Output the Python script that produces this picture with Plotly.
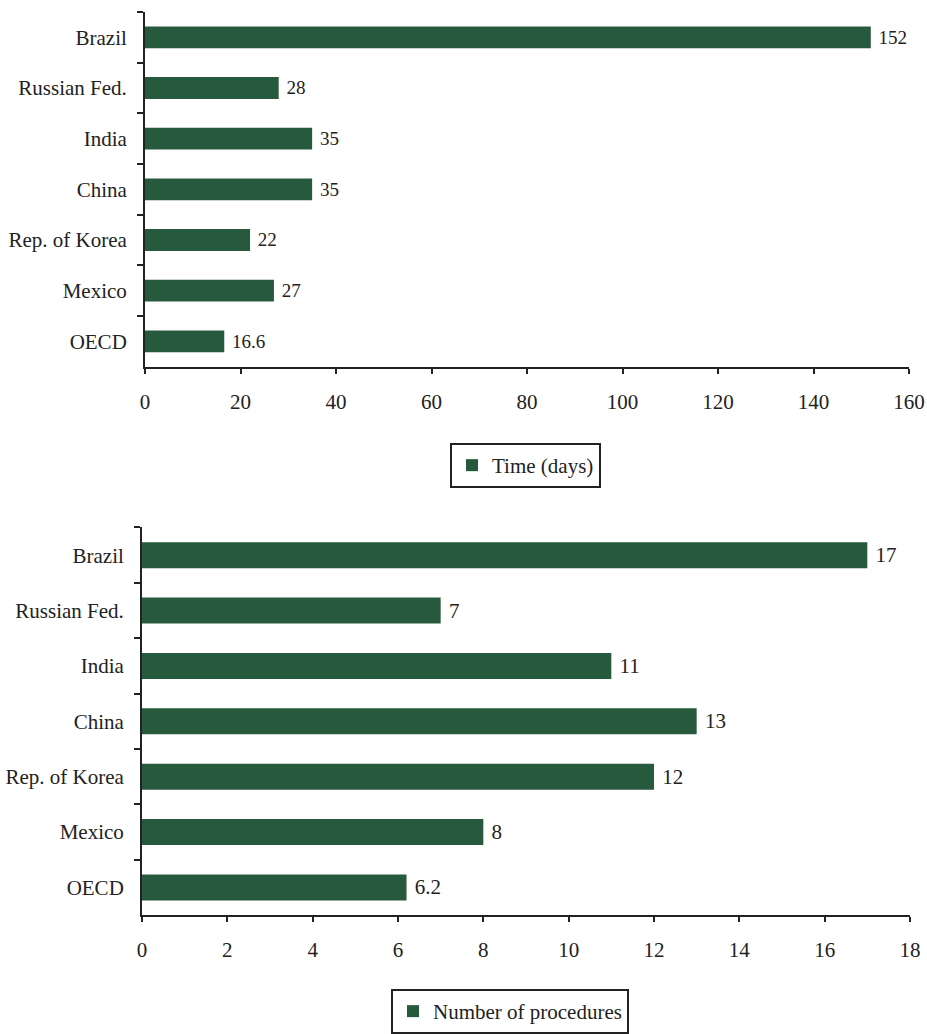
import plotly.graph_objects as go

categories = ["Brazil", "Russian Fed.", "India", "China", "Rep. of Korea", "Mexico", "OECD"]
time_days = [152, 28, 35, 35, 22, 27, 16.6]
time_labels = ["152", "28", "35", "35", "22", "27", "16.6"]
procedures = [17, 7, 11, 13, 12, 8, 6.2]
proc_labels = ["17", "7", "11", "13", "12", "8", "6.2"]
x1_ticks = [0, 20, 40, 60, 80, 100, 120, 140, 160]
x2_ticks = [0, 2, 4, 6, 8, 10, 12, 14, 16, 18]

BAR = "#275a3c"
FONT = "Liberation Serif"
FS = 21

W, H = 927, 1034

fig = go.Figure()
fig.add_trace(go.Bar(
    y=categories, x=time_days, orientation="h", name="Time (days)",
    marker=dict(color=BAR, line=dict(width=0)),
    text=time_labels, texttemplate=" %{text}", textposition="outside", cliponaxis=False,
    textfont=dict(family=FONT, size=FS, color="#222"),
    xaxis="x", yaxis="y", legend="legend", width=0.43,
))
fig.add_trace(go.Bar(
    y=categories, x=procedures, orientation="h", name="Number of procedures",
    marker=dict(color=BAR, line=dict(width=0)),
    text=proc_labels, texttemplate=" %{text}", textposition="outside", cliponaxis=False,
    textfont=dict(family=FONT, size=FS, color="#222"),
    xaxis="x2", yaxis="y2", legend="legend2", width=0.47,
))

axis_common = dict(
    showgrid=False, zeroline=False, showline=True, linecolor="#222", linewidth=2,
    ticks="outside", tickcolor="#222", tickwidth=2, automargin=False,
    tickfont=dict(family=FONT, size=FS, color="#222"),
)

fig.update_layout(
    width=W, height=H,
    margin=dict(l=0, r=0, t=0, b=0),
    paper_bgcolor="white", plot_bgcolor="white",
    font=dict(family=FONT, size=FS, color="#222"),
    xaxis=dict(domain=[145 / W, 909 / W], range=[0, 160], tickvals=x1_ticks,
               anchor="y", ticklen=5, ticklabelstandoff=10, **axis_common),
    yaxis=dict(domain=[(H - 367) / H, (H - 12) / H], autorange="reversed",
               categoryorder="array", categoryarray=categories,
               anchor="x", ticklen=6, ticklabelstandoff=12,
               tickson="boundaries", **axis_common),
    xaxis2=dict(domain=[142 / W, 910 / W], range=[0, 18], tickvals=x2_ticks,
                anchor="y2", ticklen=5, ticklabelstandoff=10, **axis_common),
    yaxis2=dict(domain=[(H - 916) / H, (H - 528) / H], autorange="reversed",
                categoryorder="array", categoryarray=categories,
                anchor="x2", ticklen=6, ticklabelstandoff=12,
                tickson="boundaries", **axis_common),
    legend=dict(x=450 / W, y=(H - 443) / H, xanchor="left", yanchor="top",
                bordercolor="#222", borderwidth=2, bgcolor="white",
                font=dict(family=FONT, size=FS, color="#222")),
    legend2=dict(x=391 / W, y=(H - 990) / H, xanchor="left", yanchor="top",
                 bordercolor="#222", borderwidth=2, bgcolor="white",
                 font=dict(family=FONT, size=FS, color="#222")),
    showlegend=True,
)

fig.write_html("out.html")
